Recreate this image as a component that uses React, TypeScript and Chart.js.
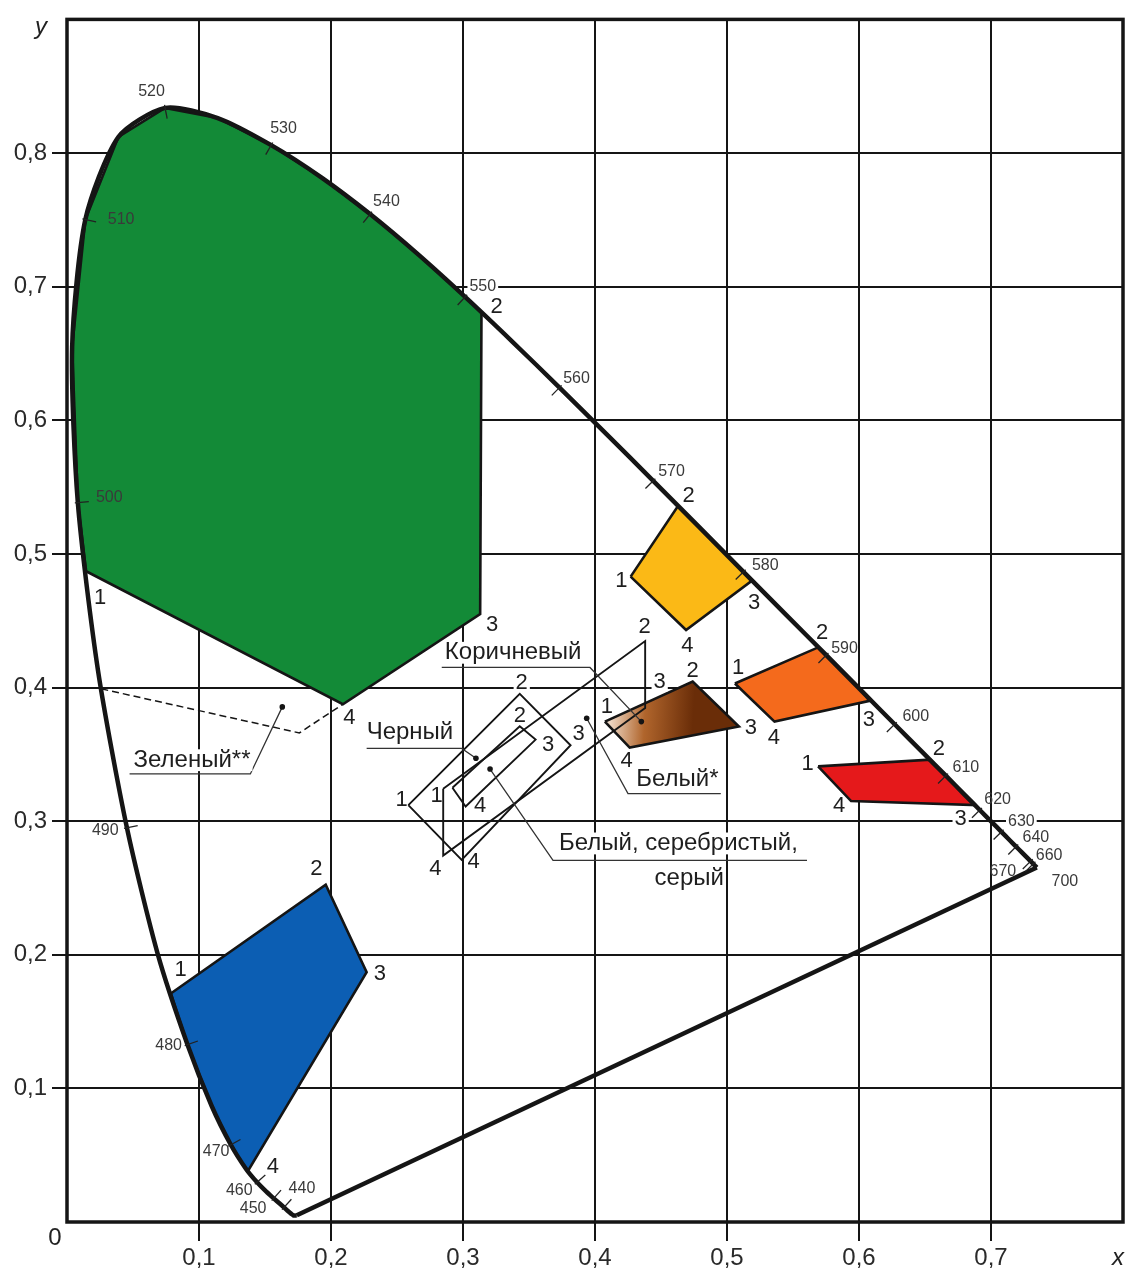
import React, { useEffect, useRef } from 'react';
import { Chart, registerables } from 'chart.js';

Chart.register(...registerables);

// CIE 1931 spectral locus (wavelength, x, y)
const cieNm = [380,385,390,395,400,405,410,415,420,425,430,435,440,445,450,455,460,465,470,475,480,485,490,495,500,505,510,515,520,525,530,535,540,545,550,555,560,565,570,575,580,585,590,595,600,605,610,615,620,625,630,635,640,645,650,655,660,665,670,675,680,690,700];
const cieX = [0.1741,0.1740,0.1738,0.1736,0.1733,0.1730,0.1726,0.1721,0.1714,0.1703,0.1689,0.1669,0.1644,0.1611,0.1566,0.1510,0.1440,0.1355,0.1241,0.1096,0.0913,0.0687,0.0454,0.0235,0.0082,0.0039,0.0139,0.0389,0.0743,0.1142,0.1547,0.1929,0.2296,0.2658,0.3016,0.3373,0.3731,0.4087,0.4441,0.4788,0.5125,0.5448,0.5752,0.6029,0.6270,0.6482,0.6658,0.6801,0.6915,0.7006,0.7079,0.7140,0.7190,0.7230,0.7260,0.7283,0.7300,0.7311,0.7320,0.7327,0.7334,0.7344,0.7347];
const cieY = [0.0050,0.0050,0.0049,0.0049,0.0048,0.0048,0.0048,0.0048,0.0051,0.0058,0.0069,0.0086,0.0109,0.0138,0.0177,0.0227,0.0297,0.0399,0.0578,0.0868,0.1327,0.2007,0.2950,0.4127,0.5384,0.6548,0.7502,0.8120,0.8338,0.8262,0.8059,0.7816,0.7543,0.7243,0.6923,0.6589,0.6245,0.5896,0.5547,0.5202,0.4866,0.4544,0.4242,0.3965,0.3725,0.3514,0.3340,0.3197,0.3083,0.2993,0.2920,0.2859,0.2809,0.2770,0.2740,0.2717,0.2700,0.2689,0.2680,0.2673,0.2666,0.2656,0.2653];

// wavelengths marked with a tick on the locus
const tickNm = [440,450,460,470,480,490,500,510,520,530,540,550,560,570,580,590,600,610,620,630,640,660,670];

// wavelength labels [text, x, y]
const wavelengthLabels: [string, number, number][] = [
  ['520',0.064,0.846],['530',0.164,0.818],['540',0.242,0.764],['550',0.315,0.700],
  ['560',0.386,0.631],['570',0.458,0.5615],['580',0.529,0.491],['590',0.589,0.429],
  ['600',0.643,0.378],['610',0.681,0.340],['620',0.705,0.316],['630',0.723,0.300],
  ['640',0.734,0.288],['660',0.744,0.2745],['670',0.709,0.262],['700',0.756,0.255],
  ['510',0.041,0.7505],['500',0.032,0.542],['490',0.029,0.293],['480',0.077,0.132],
  ['470',0.113,0.053],['460',0.1305,0.0233],['450',0.141,0.0098],['440',0.178,0.025],
];

// colour regions: corner points 1..4 (x, y)
const greenCorners = [[0.0145,0.487],[0.314,0.681],[0.313,0.455],[0.209,0.3875]];
const yellowCorners = [[0.427,0.483],[0.463,0.536],[0.519,0.480],[0.469,0.443]];
const orangeCorners = [[0.506,0.403],[0.569,0.430],[0.608,0.390],[0.536,0.3745]];
const redCorners = [[0.569,0.341],[0.654,0.346],[0.688,0.312],[0.594,0.315]];
const blueCorners = [[0.0786,0.171],[0.196,0.2525],[0.227,0.187],[0.137,0.038]];
const brownCorners = [[0.4075,0.3745],[0.474,0.4044],[0.509,0.3708],[0.4263,0.355]];
const blackCorners = [[0.2586,0.312],[0.343,0.3953],[0.3815,0.3568],[0.299,0.271]];
const whiteCorners = [[0.292,0.325],[0.343,0.371],[0.355,0.361],[0.302,0.311]];
const whiteStarCorners = [[0.285,0.3243],[0.438,0.4348],[0.438,0.3846],[0.285,0.2742]];
const greenDashed = [[0.026,0.399],[0.176,0.366],[0.209,0.3875]];

// vertex number labels [text, x, y]
const greenNums: [string, number, number][] = [['1',0.025,0.467],['2',0.3255,0.685],['3',0.322,0.447],['4',0.214,0.377]];
const yellowNums: [string, number, number][] = [['1',0.420,0.480],['2',0.471,0.5435],['3',0.5205,0.463],['4',0.470,0.431]];
const orangeNums: [string, number, number][] = [['1',0.5085,0.415],['2',0.572,0.441],['3',0.6075,0.376],['4',0.5355,0.362]];
const redNums: [string, number, number][] = [['1',0.561,0.343],['2',0.6605,0.354],['3',0.677,0.3015],['4',0.585,0.311]];
const blueNums: [string, number, number][] = [['1',0.086,0.1886],['2',0.189,0.264],['3',0.237,0.186],['4',0.156,0.0413]];
const brownNums: [string, number, number][] = [['1',0.409,0.3855],['2',0.474,0.4126],['3',0.518,0.3696],['4',0.424,0.345]];
const blackNums: [string, number, number][] = [['1',0.2535,0.316],['2',0.3445,0.4035],['3',0.3875,0.365],['4',0.308,0.2695]];
const whiteNums: [string, number, number][] = [['1',0.280,0.319],['2',0.343,0.379],['3',0.3645,0.357],['4',0.313,0.311]];
const whiteStarNums: [string, number, number][] = [['2',0.4375,0.445],['3',0.449,0.404],['4',0.279,0.264]];

// captions [text, x, y] and their leader lines (dot first)
const captions: [string, number, number][] = [
  ['Коричневый',0.338,0.426],['Черный',0.2598,0.3662],['Белый, серебристый,',0.4632,0.2833],
  ['серый',0.4714,0.2568],['Белый*',0.4624,0.3316],['Зеленый**',0.0947,0.3456],
];
const brownLeader = [[0.4351,0.3745],[0.3962,0.415],[0.2839,0.415]];
const blackLeader = [[0.3098,0.3471],[0.299,0.3544],[0.227,0.3544]];
const whiteLeader = [[0.3205,0.339],[0.3682,0.2707],[0.5606,0.2707]];
const whiteStarLeader = [[0.3937,0.377],[0.425,0.3206],[0.4953,0.3206]];
const greenLeader = [[0.1631,0.3855],[0.1389,0.3353],[0.0474,0.3353]];

const xTickValues = [0.1,0.2,0.3,0.4,0.5,0.6,0.7];
const yTickValues = [0.1,0.2,0.3,0.4,0.5,0.6,0.7,0.8];

const pts = (arr: number[][]) => arr.map(([x, y]) => ({ x, y }));
const locusPoint = (nm: number) => { const i = cieNm.indexOf(nm); return { x: cieX[i], y: cieY[i] }; };

function polygon(corners: number[][], insertAfter = -1, nmFrom = 0, nmTo = 0) {
  const out: { x: number; y: number }[] = [];
  corners.forEach((c, i) => {
    out.push({ x: c[0], y: c[1] });
    if (i === insertAfter) cieNm.forEach((nm) => { if (nm >= nmFrom && nm <= nmTo) out.push(locusPoint(nm)); });
  });
  out.push(out[0]);
  return out;
}

const fmt = (v: number) => Number(v).toFixed(1).replace('.', ',');
const onGrid = (v: number) => Math.abs(v * 10 - Math.round(v * 10)) < 0.08;
const INK = '#151515';
const FONT = '"Liberation Sans", Arial, sans-serif';

export default function App() {
  const ref = useRef<HTMLCanvasElement | null>(null);
  useEffect(() => {
    const canvas = ref.current;
    if (!canvas) return;

    const region = (data: any[], bg: any, order = 5) => ({
      data, showLine: true, fill: 'shape', backgroundColor: bg, borderColor: INK,
      borderWidth: 2.6, pointRadius: 0, tension: 0, order,
    });
    const outline = (data: any[], w = 1.9) => ({
      data, showLine: true, fill: false, borderColor: INK, borderWidth: w, pointRadius: 0, tension: 0, order: 3,
    });
    const leader = (data: number[][]) => ({
      data: pts(data), showLine: true, fill: false, borderColor: '#333', borderWidth: 1.3,
      pointRadius: data.map((_, i) => (i === 0 ? 2.8 : 0)), pointBackgroundColor: INK, pointBorderWidth: 0,
      tension: 0, order: 2,
    });

    const brownFill = (ctx: any) => {
      const chart = ctx.chart;
      const sx = chart.scales?.x, sy = chart.scales?.y;
      if (!chart.chartArea || !sx || !sy) return '#8a4416';
      const g = chart.ctx.createLinearGradient(
        sx.getPixelForValue(brownCorners[0][0]), sy.getPixelForValue(brownCorners[0][1]),
        sx.getPixelForValue(brownCorners[1][0]), sy.getPixelForValue(brownCorners[2][1]));
      g.addColorStop(0, '#f7e8da');
      g.addColorStop(0.45, '#b0652c');
      g.addColorStop(1, '#6a2d08');
      return g;
    };

    const locus = cieNm.map((_, i) => ({ x: cieX[i], y: cieY[i] }));
    const purple = [locus[locus.length - 1], locus[0]];

    const annotate = {
      id: 'annotate',
      afterDraw(chart: any) {
        const { ctx, chartArea: a } = chart;
        const sx = chart.scales.x, sy = chart.scales.y;
        const X = (v: number) => sx.getPixelForValue(v);
        const Y = (v: number) => sy.getPixelForValue(v);
        const text = (t: string, x: number, y: number, size: number, backdrop: boolean) => {
          const px = X(x), py = Y(y);
          if (backdrop) {
            const w = ctx.measureText(t).width;
            const fill = ctx.fillStyle;
            ctx.fillStyle = '#fff';
            ctx.fillRect(px - w / 2 - 2, py - size * 0.42, w + 4, size * 0.84);
            ctx.fillStyle = fill;
          }
          ctx.fillText(t, px, py);
        };
        ctx.save();
        // wavelength ticks
        const cx = X(0.33), cy = Y(0.33);
        ctx.strokeStyle = '#222';
        ctx.lineWidth = 1.3;
        tickNm.forEach((nm) => {
          const i = cieNm.indexOf(nm);
          const p = { x: X(cieX[i]), y: Y(cieY[i]) };
          const a0 = { x: X(cieX[i - 1]), y: Y(cieY[i - 1]) };
          const a1 = { x: X(cieX[i + 1]), y: Y(cieY[i + 1]) };
          let tx = a1.x - a0.x, ty = a1.y - a0.y;
          const l = Math.hypot(tx, ty) || 1; tx /= l; ty /= l;
          let nx = -ty, ny = tx;
          if (nx * (cx - p.x) + ny * (cy - p.y) < 0) { nx = -nx; ny = -ny; }
          ctx.beginPath();
          ctx.moveTo(p.x - nx * 3, p.y - ny * 3);
          ctx.lineTo(p.x + nx * 11, p.y + ny * 11);
          ctx.stroke();
        });
        // frame
        ctx.lineWidth = 3.5;
        ctx.strokeStyle = INK;
        ctx.strokeRect(a.left, a.top, a.right - a.left, a.bottom - a.top);
        // texts
        ctx.textAlign = 'center';
        ctx.textBaseline = 'middle';
        ctx.fillStyle = '#3a3a3a';
        ctx.font = `16px ${FONT}`;
        wavelengthLabels.forEach(([t, x, y]) => text(t, x, y, 16, onGrid(y) && !onGrid(x)));
        ctx.fillStyle = '#1e1e1e';
        ctx.font = `22px ${FONT}`;
        [greenNums, yellowNums, orangeNums, redNums, blueNums, brownNums, blackNums, whiteNums, whiteStarNums]
          .forEach((arr) => arr.forEach(([t, x, y]) => text(t, x, y, 22, onGrid(x) || onGrid(y))));
        ctx.font = `24px ${FONT}`;
        captions.forEach(([t, x, y]) => text(t, x, y, 26, true));
        // axis letters
        ctx.fillStyle = '#222';
        ctx.font = `italic 24px ${FONT}`;
        ctx.fillText('y', a.left - 26, a.top + 8);
        ctx.fillText('x', a.right - 5, a.bottom + 36);
        ctx.font = `24px ${FONT}`;
        ctx.fillText('0', a.left - 12, a.bottom + 16);
        ctx.restore();
      },
    };

    const hideEnds = (maxV: number) => (c: any) =>
      c.tick && (c.tick.value < 0.01 || c.tick.value > maxV - 0.01) ? 'rgba(0,0,0,0)' : INK;

    const chart = new Chart(canvas, {
      type: 'scatter',
      data: {
        datasets: [
          { data: locus, showLine: true, fill: false, borderColor: INK, borderWidth: 4.5, pointRadius: 0, tension: 0.25, order: 0 },
          { data: purple, showLine: true, fill: false, borderColor: INK, borderWidth: 4.5, pointRadius: 0, tension: 0, order: 0 },
          region(polygon(greenCorners, 0, 500, 550), '#138a37'),
          region(polygon(yellowCorners, 1, 575, 580), '#fbb916'),
          region(polygon(orangeCorners, 1, 590, 595), '#f46a1c'),
          region(polygon(redCorners, 1, 610, 615), '#e5191b'),
          region(polygon(blueCorners, 3, 465, 480), '#0c5eb3'),
          region(polygon(brownCorners), brownFill),
          outline(polygon(blackCorners)),
          outline(polygon(whiteCorners)),
          outline(polygon(whiteStarCorners)),
          { ...outline(pts(greenDashed), 1.5), borderDash: [7, 4] },
          leader(brownLeader), leader(blackLeader), leader(whiteLeader), leader(whiteStarLeader), leader(greenLeader),
        ] as any,
      },
      options: {
        responsive: false,
        animation: false,
        events: [],
        layout: { padding: { top: 14, right: 7, left: 0, bottom: 0 } },
        plugins: { legend: { display: false }, tooltip: { enabled: false } },
        scales: {
          x: {
            type: 'linear', min: 0, max: 0.8, z: 1,
            afterFit: (s: any) => { s.height = 49; },
            afterBuildTicks: (s: any) => { s.ticks = [0, ...xTickValues, 0.8].map((value) => ({ value })); },
            ticks: {
              callback: (v: any) => (xTickValues.some((t) => Math.abs(t - v) < 1e-6) ? fmt(v) : ''),
              font: { family: FONT, size: 24 }, color: '#2a2a2a', padding: 3, maxRotation: 0, autoSkip: false,
            },
            grid: { color: INK, lineWidth: 2, tickLength: 19, tickColor: hideEnds(0.8), tickWidth: 2 },
            border: { display: false },
          },
          y: {
            type: 'linear', min: 0, max: 0.9, z: 1,
            afterFit: (s: any) => { s.width = 67; },
            afterBuildTicks: (s: any) => { s.ticks = [0, ...yTickValues, 0.9].map((value) => ({ value })); },
            ticks: {
              callback: (v: any) => (yTickValues.some((t) => Math.abs(t - v) < 1e-6) ? fmt(v) : ''),
              font: { family: FONT, size: 24 }, color: '#2a2a2a', padding: 5, autoSkip: false,
            },
            grid: { color: INK, lineWidth: 2, tickLength: 15, tickColor: hideEnds(0.9), tickWidth: 2 },
            border: { display: false },
          },
        },
      } as any,
      plugins: [annotate],
    });
    return () => chart.destroy();
  }, []);

  return (
    <div style={{ position: 'absolute', left: 0, top: 0, width: 1130, height: 1271, background: '#fff' }}>
      <canvas ref={ref} width={1130} height={1271} style={{ display: 'block' }} />
    </div>
  );
}
